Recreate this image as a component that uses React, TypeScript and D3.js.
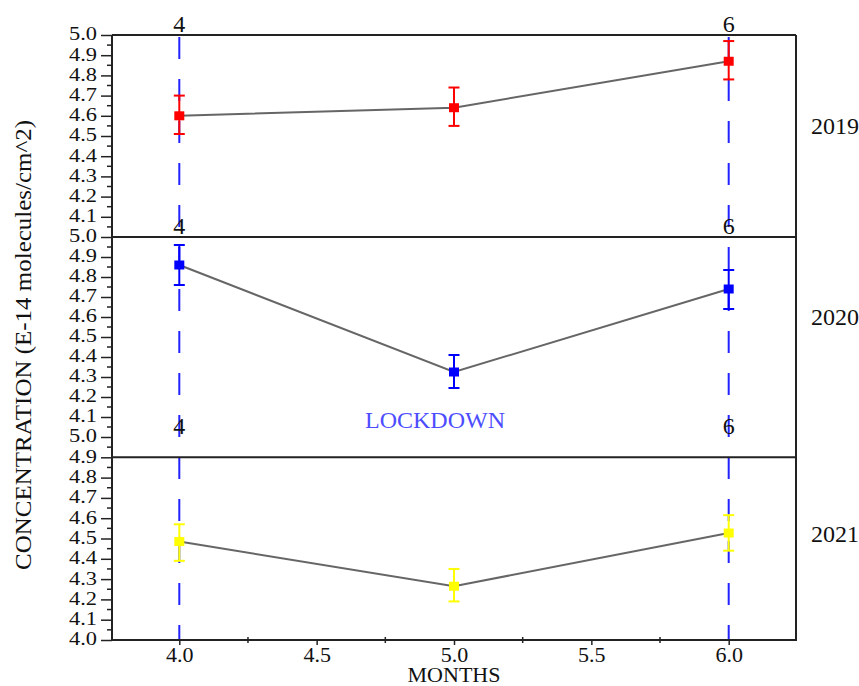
import React, { useRef, useEffect } from "react";
import * as d3 from "d3";

const width = 859;
const height = 686;
const font = "'Liberation Serif', 'Times New Roman', serif";

// data
const months = [4, 5, 6];
const years = ["2019", "2020", "2021"];
const yearColors = ["#ff0000", "#0000ff", "#ffff00"];

const mean2019 = [4.6, 4.64, 4.87];
const low2019 = [4.51, 4.55, 4.78];
const high2019 = [4.7, 4.74, 4.97];

const mean2020 = [4.86, 4.325, 4.74];
const low2020 = [4.76, 4.245, 4.64];
const high2020 = [4.96, 4.41, 4.835];

const mean2021 = [4.485, 4.265, 4.527];
const low2021 = [4.39, 4.19, 4.44];
const high2021 = [4.57, 4.35, 4.615];

const lockdownMonths = [4, 6];
const xTicks = [4.0, 4.5, 5.0, 5.5, 6.0];
const xMinorTicks = [4.25, 4.75, 5.25, 5.75];
const yTicksUpper = [4.1, 4.2, 4.3, 4.4, 4.5, 4.6, 4.7, 4.8, 4.9, 5.0];
const yTicksLower = [4.0, 4.1, 4.2, 4.3, 4.4, 4.5, 4.6, 4.7, 4.8, 4.9, 5.0];
const yMinorTicks = [4.05, 4.15, 4.25, 4.35, 4.45, 4.55, 4.65, 4.75, 4.85, 4.95];

const plotLeft = 112;
const plotRight = 796;
const panels = [
    { bottom: 237, top: 35, ticks: yTicksUpper, frameAt: 5.0, labelAt: 4.55 },
    { bottom: 437, top: 237, ticks: yTicksUpper, frameAt: 5.0, labelAt: 4.6 },
    { bottom: 640, top: 437, ticks: yTicksLower, frameAt: 4.9, labelAt: 4.52 },
];

const series = [
    { mean: mean2019, low: low2019, high: high2019 },
    { mean: mean2020, low: low2020, high: high2020 },
    { mean: mean2021, low: low2021, high: high2021 },
];

const App = () => {
    const ref = useRef<SVGSVGElement>(null);

    useEffect(() => {
        const svg = d3.select(ref.current);
        svg.selectAll("*").remove();

        const x = d3.scaleLinear().domain([3.755, 6.245]).range([plotLeft, plotRight]);

        // blue dashed lockdown lines across all panels
        svg.append("g")
            .selectAll("line")
            .data(lockdownMonths)
            .join("line")
            .attr("x1", d => x(d))
            .attr("x2", d => x(d))
            .attr("y1", panels[0].top + 2)
            .attr("y2", panels[2].bottom)
            .attr("stroke", "#2222ff")
            .attr("stroke-width", 2)
            .attr("stroke-dasharray", "22,20");

        panels.forEach((p, i) => {
            const y = d3.scaleLinear().domain([4, 5]).range([p.bottom, p.top]);
            const g = svg.append("g");

            // frame top line of the panel
            g.append("line")
                .attr("x1", plotLeft)
                .attr("x2", plotRight)
                .attr("y1", y(p.frameAt))
                .attr("y2", y(p.frameAt))
                .attr("stroke", "#222")
                .attr("stroke-width", 2);

            // y axis, major + minor ticks
            g.append("g")
                .attr("transform", `translate(${plotLeft},0)`)
                .call(d3.axisLeft(y).tickValues(p.ticks).tickSize(11).tickFormat(d3.format(".1f")))
                .call(a => a.select(".domain").remove())
                .call(a => a.selectAll(".tick line").attr("stroke", "#222").attr("stroke-width", 1.5))
                .call(a => a.selectAll("text")
                    .attr("x", -15)
                    .attr("dy", "0.26em")
                    .attr("font-family", font)
                    .attr("font-size", 19)
                    .attr("textLength", 28)
                    .attr("lengthAdjust", "spacingAndGlyphs")
                    .attr("fill", "#111"));
            g.append("g")
                .selectAll("line")
                .data(yMinorTicks)
                .join("line")
                .attr("x1", plotLeft - 5)
                .attr("x2", plotLeft)
                .attr("y1", d => y(d))
                .attr("y2", d => y(d))
                .attr("stroke", "#222")
                .attr("stroke-width", 1.5);

            // "4" and "6" month labels above each panel
            g.append("g")
                .selectAll("text")
                .data(lockdownMonths)
                .join("text")
                .attr("x", d => x(d))
                .attr("y", y(5.0) - 3)
                .attr("text-anchor", "middle")
                .attr("font-family", font)
                .attr("font-size", 24)
                .attr("fill", "#111")
                .text(d => d);

            // year label
            g.append("text")
                .attr("x", 811)
                .attr("y", y(p.labelAt))
                .attr("dy", "0.33em")
                .attr("font-family", font)
                .attr("font-size", 24)
                .attr("fill", "#111")
                .text(years[i]);

            // connecting line
            const s = series[i];
            const pts = months.map((m, k) => [x(m), y(s.mean[k])] as [number, number]);
            g.append("path")
                .attr("d", d3.line()(pts))
                .attr("fill", "none")
                .attr("stroke", "#666")
                .attr("stroke-width", 2);

            // error bars
            const eb = g.append("g").attr("stroke", yearColors[i]).attr("stroke-width", 2);
            eb.append("g")
                .selectAll("line")
                .data(months)
                .join("line")
                .attr("x1", d => x(d))
                .attr("x2", d => x(d))
                .attr("y1", (d, k) => y(s.low[k]))
                .attr("y2", (d, k) => y(s.high[k]));
            [s.low, s.high].forEach(arr => {
                eb.append("g")
                    .selectAll("line")
                    .data(months)
                    .join("line")
                    .attr("x1", d => x(d) - 5.5)
                    .attr("x2", d => x(d) + 5.5)
                    .attr("y1", (d, k) => y(arr[k]))
                    .attr("y2", (d, k) => y(arr[k]));
            });

            // markers
            g.append("g")
                .selectAll("rect")
                .data(months)
                .join("rect")
                .attr("x", d => x(d) - 5)
                .attr("y", (d, k) => y(s.mean[k]) - 4.5)
                .attr("width", 10)
                .attr("height", 9)
                .attr("fill", yearColors[i]);
        });

        // left, right and bottom frame
        svg.append("path")
            .attr("d", `M${plotLeft},${panels[0].top}V${panels[2].bottom}H${plotRight}V${panels[0].top}`)
            .attr("fill", "none")
            .attr("stroke", "#222")
            .attr("stroke-width", 2);

        // x axis
        svg.append("g")
            .attr("transform", `translate(0,${panels[2].bottom})`)
            .call(d3.axisBottom(x).tickValues(xTicks).tickSize(5).tickFormat(d3.format(".1f")))
            .call(a => a.select(".domain").remove())
            .call(a => a.selectAll(".tick line").attr("stroke", "#222").attr("stroke-width", 1.5))
            .call(a => a.selectAll("text")
                .attr("y", 22)
                .attr("dy", 0)
                .attr("font-family", font)
                .attr("font-size", 22)
                .attr("fill", "#111"));
        svg.append("g")
            .selectAll("line")
            .data(xMinorTicks)
            .join("line")
            .attr("x1", d => x(d))
            .attr("x2", d => x(d))
            .attr("y1", panels[2].bottom - 3)
            .attr("y2", panels[2].bottom + 3)
            .attr("stroke", "#222")
            .attr("stroke-width", 1.5);

        svg.append("text")
            .attr("x", x(5))
            .attr("y", 682)
            .attr("text-anchor", "middle")
            .attr("font-family", font)
            .attr("font-size", 22)
            .attr("fill", "#111")
            .text("MONTHS");

        svg.append("text")
            .attr("transform", `translate(31,345) rotate(-90)`)
            .attr("text-anchor", "middle")
            .attr("font-family", font)
            .attr("font-size", 23)
            .attr("textLength", 450)
            .attr("lengthAdjust", "spacingAndGlyphs")
            .attr("fill", "#111")
            .text("CONCENTRATION (E-14 molecules/cm^2)");

        svg.append("text")
            .attr("x", 435)
            .attr("y", 428)
            .attr("text-anchor", "middle")
            .attr("font-family", font)
            .attr("font-size", 24)
            .attr("fill", "#4d4dff")
            .text("LOCKDOWN");
    }, []);

    return (
        <svg
            ref={ref}
            width={width}
            height={height}
            style={{ position: "absolute", left: 0, top: 0, background: "#fff" }}
        />
    );
};

export default App;
